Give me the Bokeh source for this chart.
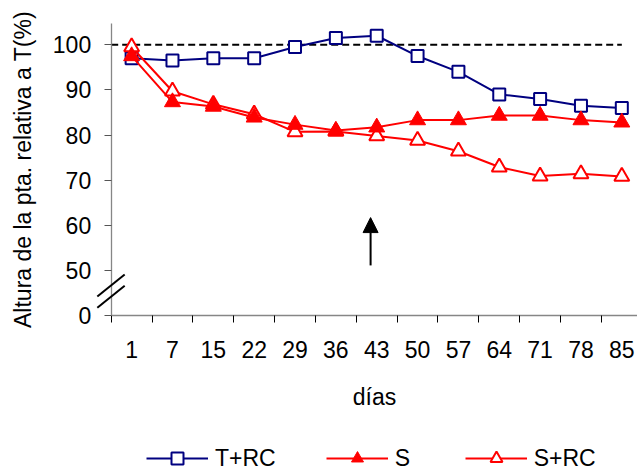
from bokeh.plotting import figure
from bokeh.models import (Range1d, FixedTicker, Legend, LegendItem, Arrow,
                          NormalHead)
from bokeh.embed import file_html
from bokeh.resources import INLINE

# ---- data ----
days = [1, 7, 15, 22, 29, 36, 43, 50, 57, 64, 71, 78, 85]
t_rc = [97, 96.5, 97, 97, 99.5, 101.5, 102, 97.5, 94, 89, 88, 86.5, 86]
s = [97.5, 87.3, 86.3, 83.9, 82.3, 81.0, 81.7, 83.3, 83.3, 84.3, 84.3, 83.3, 82.8]
s_rc = [99.5, 89.7, 86.8, 84.6, 80.7, 80.8, 79.8, 78.8, 76.4, 72.9, 70.9, 71.4, 70.8]
y_ticks = [40, 50, 60, 70, 80, 90, 100]          # 40 is shown as "0" (axis break)
y_tick_labels = ["0", "50", "60", "70", "80", "90", "100"]
ref_level = 100
arrow_day = 43

FONT = "Liberation Sans"
FS = "23px"

x = list(range(len(days)))
X_AXIS_AT = 40          # y value where the (broken) axis shows "0"
Y_AXIS_AT = -0.5        # left edge of the first category
Y_TOP = 104.72
X_RIGHT = 12.384

p = figure(width=637, height=470, output_backend="svg", toolbar_location=None,
           x_range=Range1d(-3.21, X_RIGHT), y_range=Range1d(5.65, 109.81),
           min_border_left=0, min_border_right=0, min_border_top=0,
           min_border_bottom=0)
p.outline_line_color = None
p.grid.visible = False
p.background_fill_color = "white"

# x axis: labels at category centres, tick marks at category boundaries
xa = p.xaxis[0]
xa.fixed_location = X_AXIS_AT
xa.bounds = (Y_AXIS_AT, X_RIGHT)
xa.ticker = FixedTicker(ticks=x, minor_ticks=[i - 0.5 for i in range(len(days) + 1)])
xa.major_label_overrides = {i: str(d) for i, d in zip(x, days)}
xa.major_tick_out = 0
xa.major_tick_in = 0
xa.minor_tick_out = 7
xa.minor_tick_in = 0
xa.minor_tick_line_color = "black"
xa.axis_line_color = "#868686"
xa.axis_line_width = 1.3
xa.major_label_text_font = FONT
xa.major_label_text_font_size = FS
xa.major_label_text_color = "black"
xa.major_label_standoff = 18
xa.axis_label = "días"
xa.axis_label_text_font = FONT
xa.axis_label_text_font_size = FS
xa.axis_label_text_font_style = "normal"
xa.axis_label_text_color = "black"
xa.axis_label_standoff = 23

ya = p.yaxis[0]
ya.fixed_location = Y_AXIS_AT
ya.bounds = (X_AXIS_AT, Y_TOP)
ya.ticker = FixedTicker(ticks=y_ticks)
ya.major_label_overrides = {t: l for t, l in zip(y_ticks, y_tick_labels)}
ya.major_tick_out = 7
ya.major_tick_in = 0
ya.minor_tick_line_color = None
ya.major_tick_line_color = "#555555"
ya.axis_line_color = "#868686"
ya.axis_line_width = 1.3
ya.major_label_text_font = FONT
ya.major_label_text_font_size = FS
ya.major_label_text_color = "black"
ya.major_label_standoff = 13
ya.axis_label = "Altura de la pta. relativa a T(%)"
ya.axis_label_text_font = FONT
ya.axis_label_text_font_size = FS
ya.axis_label_text_font_style = "normal"
ya.axis_label_text_color = "black"
ya.axis_label_standoff = 14

# reference line at 100 %
p.line(x=[Y_AXIS_AT, len(days) - 1], y=[ref_level, ref_level], line_color="black",
       line_width=2, line_dash="7 4")

# series
l1 = p.line(x, t_rc, line_color="#000080", line_width=2)
m1 = p.scatter(x, t_rc, marker="square", size=12, line_color="#000080",
               fill_color="white", line_width=2)
l3 = p.line(x, s_rc, line_color="#FF0000", line_width=2)
m3 = p.scatter(x, s_rc, marker="triangle", size=15, line_color="#FF0000",
               fill_color="white", line_width=2)
l2 = p.line(x, s, line_color="#FF0000", line_width=2)
m2 = p.scatter(x, s, marker="triangle", size=16, line_color="#FF0000",
               fill_color="#FF0000", line_width=1)

# axis break marks
for y0, y1 in [(44.2, 49.1), (41.7, 46.6)]:
    p.add_layout(Arrow(end=None, x_start=-0.84, y_start=y0, x_end=-0.17, y_end=y1,
                       line_color="black", line_width=2))

# arrow marking day 43
ax = days.index(arrow_day) - 0.15
p.add_layout(Arrow(end=NormalHead(size=15, fill_color="black", line_color="black"),
                   x_start=ax, y_start=51.1, x_end=ax, y_end=61.7,
                   line_color="black", line_width=2))

legend = Legend(items=[LegendItem(label="T+RC", renderers=[l1, m1]),
                       LegendItem(label="S", renderers=[l2, m2]),
                       LegendItem(label="S+RC", renderers=[l3, m3])],
                orientation="horizontal", location=(146, -3),
                glyph_width=62, glyph_height=30, label_standoff=7, spacing=50,
                padding=0, margin=0, border_line_color=None,
                background_fill_alpha=0, label_text_font=FONT,
                label_text_font_size=FS, label_text_color="black")
p.add_layout(legend, "center")

open("out.html", "w").write(file_html(p, INLINE))
